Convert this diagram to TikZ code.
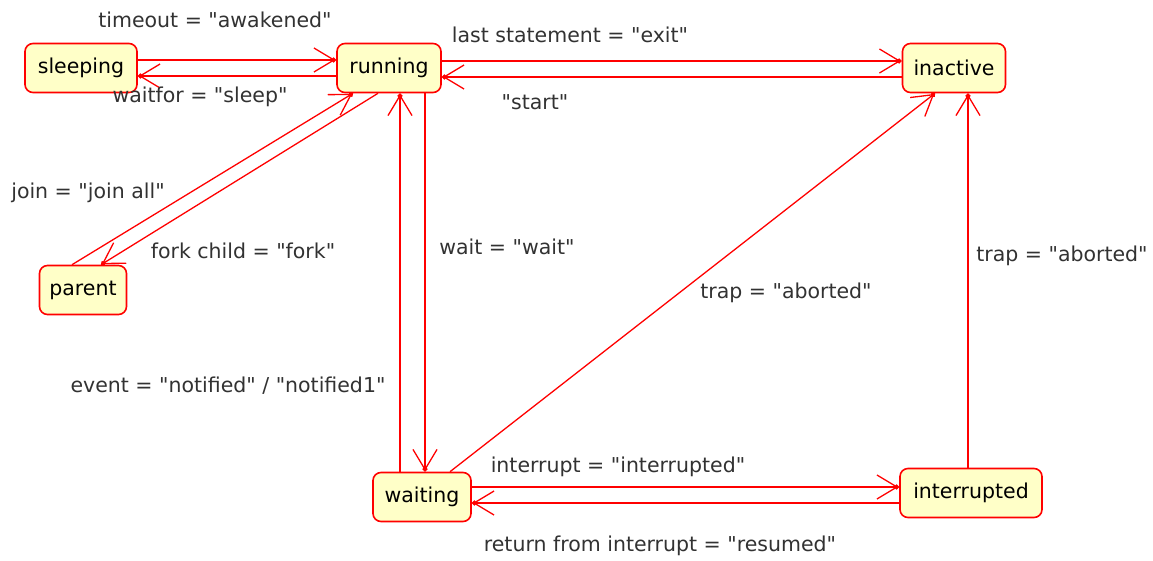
\documentclass[tikz,border=0pt]{standalone}
\usepackage{fontspec}
\setmainfont{DejaVu Sans}[Ligatures=TeXOff]
\usetikzlibrary{arrows.meta,calc}

\definecolor{statefill}{RGB}{255,255,200}
\definecolor{labeltext}{RGB}{50,50,50}

\tikzset{
  state/.style={rectangle, rounded corners=8pt, draw=red, line width=1.6pt, fill=statefill,
    minimum height=49pt, inner xsep=0pt, text=black},
  tr/.style={draw=red, line width=1.3pt,
    -{Straight Barb[length=20pt,width=24pt,sep=-4pt]Circle[length=5pt]}},
  lbl/.style={text=labeltext, inner sep=1pt}
}

\begin{document}
\begin{tikzpicture}[x=1pt, y=-1pt, font=\fontsize{20.5pt}{24pt}\selectfont]
  \useasboundingbox (0,0) rectangle (1153,560);
  % states
  \node (sleeping) at (81,68) [state, minimum width=112pt] {sleeping};
  \node (running) at (389,68) [state, minimum width=104pt] {running};
  \node (inactive) at (954,68) [state, minimum width=103pt] {inactive};
  \node (parent) at (83,290) [state, minimum width=87pt] {parent};
  \node (waiting) at (422,497) [state, minimum width=98pt] {waiting};
  \node (interrupted) at (971,493) [state, minimum width=142pt] {interrupted};

  % transitions
  \draw[tr] ([yshift=8pt]sleeping.east) to ([yshift=8pt]sleeping.east -| running.west);
  \draw[tr] ([yshift=-8pt]running.west) to ([yshift=-8pt]running.west -| sleeping.east);
  \draw[tr] ([yshift=7pt]running.east) to ([yshift=7pt]running.east -| inactive.west);
  \draw[tr] ([yshift=-9pt]inactive.west) to ([yshift=-9pt]inactive.west -| running.east);
  \draw[tr] ([xshift=-11pt]parent.north) to ([xshift=-36pt]running.south);
  \draw[tr] ([xshift=-11pt]running.south) to ([xshift=18pt]parent.north);
  \draw[tr] ([xshift=36pt]running.south) to ([xshift=36pt]running.south |- waiting.north);
  \draw[tr] ([xshift=-22pt]waiting.north) to ([xshift=-22pt]waiting.north |- running.south);
  \draw[tr] ([xshift=28pt]waiting.north) to ([xshift=-19pt]inactive.south);
  \draw[tr] ([xshift=-3pt]interrupted.north) to ([xshift=-3pt]interrupted.north |- inactive.south);
  \draw[tr] ([yshift=6pt]interrupted.west -| waiting.east) to ([yshift=6pt]interrupted.west);
  \draw[tr] ([yshift=-10pt]interrupted.west) to ([yshift=-10pt]interrupted.west -| waiting.east);

  % labels
  \node (ltimeout) at (215,20) [lbl] {timeout = "awakened"};
  \node (lwaitfor) at (200,97) [lbl] {waitfor = "sleep"};
  \node (lexit) at (570,35) [lbl] {last statement = "exit"};
  \node (lstart) at (535,102) [lbl] {"start"};
  \node (ljoin) at (88,193) [lbl] {join = "join all"};
  \node (lfork) at (243,251) [lbl] {fork child = "fork"};
  \node (lwait) at (507,247) [lbl] {wait = "wait"};
  \node (lnotified) at (228,386) [lbl] {event = "notified" / "notified1"};
  \node (ltrapw) at (786,293) [lbl] {trap = "aborted"};
  \node (ltrapi) at (1062,256) [lbl] {trap = "aborted"};
  \node (linterrupt) at (618,467) [lbl] {interrupt = "interrupted"};
  \node (lresume) at (660,546) [lbl] {return from interrupt = "resumed"};
\end{tikzpicture}
\end{document}
